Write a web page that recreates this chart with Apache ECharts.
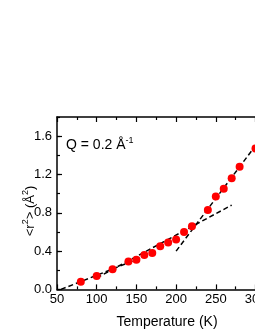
<!DOCTYPE html>
<html>
<head>
<meta charset="utf-8">
<script src="https://cdn.jsdelivr.net/npm/echarts@6/dist/echarts.min.js"></script>
<style>
html,body{margin:0;padding:0;background:#fff;}
#chart{width:255px;height:330px;}
</style>
</head>
<body>
<div id="chart"></div>
<script>
// Data
const temperatures = [80, 100, 120, 140, 150, 160, 170, 180, 190, 200, 210, 220, 240, 250, 260, 270, 280, 300];
const msd = [0.08, 0.14, 0.21, 0.29, 0.31, 0.36, 0.38, 0.45, 0.49, 0.52, 0.60, 0.66, 0.83, 0.97, 1.05, 1.16, 1.28, 1.47];

// Dashed guide lines (end points)
const fitLowT = [55, 165];
const fitLowV = [0.0, 0.36];
const fitMidT = [100, 270];
const fitMidV = [0.12, 0.88];
const fitHighT = [200, 300];
const fitHighV = [0.40, 1.50];

const xTicks = [50, 100, 150, 200, 250, 300];
const yTicks = [0.0, 0.4, 0.8, 1.2, 1.6];

const zip = (a, b) => a.map((v, i) => [v, b[i]]);

const chart = echarts.init(document.getElementById('chart'), null, {renderer: 'canvas'});
const font = 'Liberation Sans, Arial, sans-serif';
const axisCommon = {
  axisLine: {show: true, onZero: false, lineStyle: {color: '#000', width: 1.5}},
  axisTick: {show: true, inside: true, length: 5, lineStyle: {color: '#000', width: 1.2}},
  minorTick: {show: true, splitNumber: 2, length: 3, lineStyle: {color: '#000', width: 1.2}},
  splitLine: {show: false}
};
const dash = {color: '#000', width: 1.5, type: [5, 3]};

chart.setOption({
  animation: false,
  backgroundColor: '#fff',
  grid: {left: 57, top: 117, width: 198.5, height: 172.4, containLabel: false, outerBoundsMode: 'none'},
  xAxis: [
    Object.assign({
      type: 'value', position: 'bottom', min: xTicks[0], max: xTicks[xTicks.length - 1], interval: 50,
      axisLabel: {color: '#000', fontSize: 13, fontFamily: font, margin: 4, hideOverlap: false}
    }, axisCommon),
    Object.assign({
      type: 'value', position: 'top', min: xTicks[0], max: xTicks[xTicks.length - 1], interval: 50,
      axisLabel: {show: false}
    }, axisCommon)
  ],
  yAxis: [
    Object.assign({}, axisCommon, {
      type: 'value', position: 'left', min: 0, max: 1.8, interval: 0.4,
      minorTick: {show: false},
      axisLabel: {color: '#000', fontSize: 13, fontFamily: font, margin: 5, showMaxLabel: false,
        formatter: v => (yTicks.some(t => Math.abs(t - v) < 1e-6) ? v.toFixed(1) : '')}
    }),
    {
      type: 'value', position: 'left', offset: 0, min: 0, max: 1.8, interval: 0.2,
      axisLine: {show: false}, axisLabel: {show: false}, splitLine: {show: false},
      axisTick: {show: true, inside: true, length: 3, lineStyle: {color: '#000', width: 1.2}}
    }
  ],
  graphic: [
    {
      type: 'text', left: 66, top: 136,
      style: {
        text: '{n|Q = 0.2 Å}{s|-1}',
        rich: {
          n: {fontSize: 14, fontFamily: font, fill: '#000', verticalAlign: 'bottom'},
          s: {fontSize: 9, fontFamily: font, fill: '#000', verticalAlign: 'top', padding: [0, 0, 7, 0]}
        }
      }
    },
    {
      type: 'text', x: 167, y: 322,
      style: {text: 'Temperature (K)', fontSize: 14, fontFamily: font, fill: '#000', align: 'center', verticalAlign: 'middle'}
    },
    {
      type: 'text', x: 30, y: 211, rotation: Math.PI / 2,
      style: {
        text: '{n|<r}{s|2}{n|> (Å}{s|2}{n|)}',
        align: 'center', verticalAlign: 'middle',
        rich: {
          n: {fontSize: 13, fontFamily: font, fill: '#000'},
          s: {fontSize: 9, fontFamily: font, fill: '#000', padding: [0, 0, 8, 0]}
        }
      }
    }
  ],
  series: [
    {type: 'line', data: zip(fitLowT, fitLowV), symbol: 'none', lineStyle: dash, z: 2},
    {type: 'line', data: zip(fitMidT, fitMidV), symbol: 'none', lineStyle: dash, z: 2},
    {type: 'line', data: zip(fitHighT, fitHighV), symbol: 'none', lineStyle: dash, z: 2},
    {type: 'scatter', data: zip(temperatures, msd), symbol: 'circle', symbolSize: 8,
      itemStyle: {color: '#ff0000', opacity: 1}, z: 3}
  ]
});
</script>
</body>
</html>
